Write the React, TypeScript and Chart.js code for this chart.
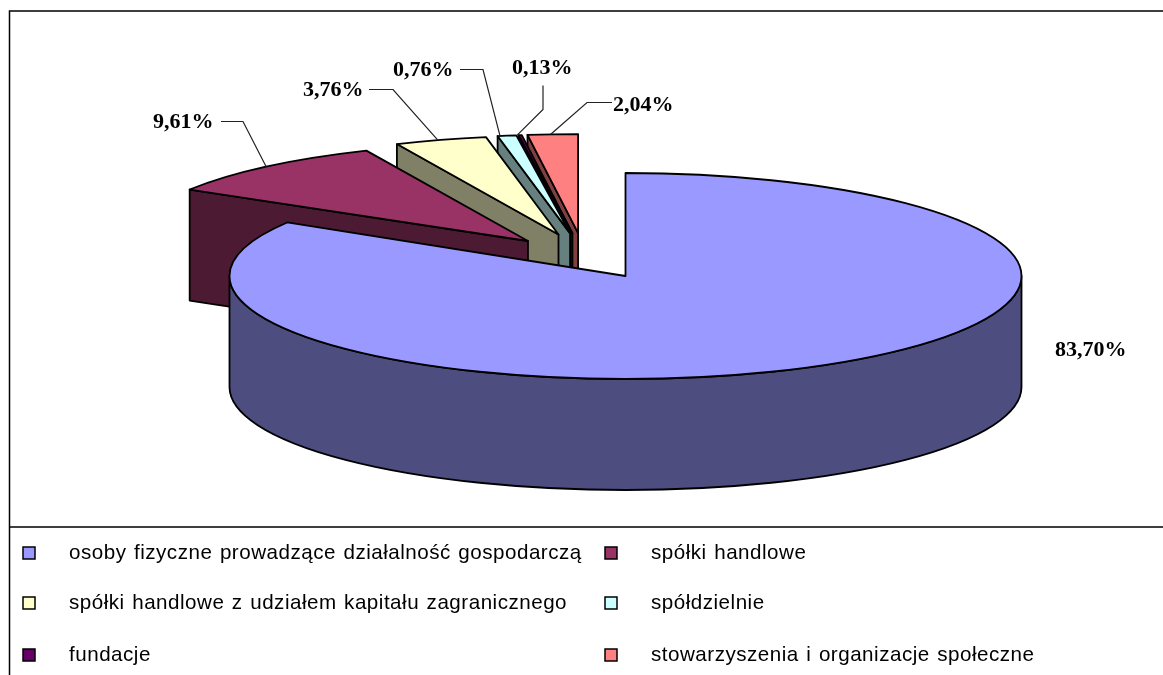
import React, { useEffect, useRef } from "react";
import { Chart, registerables } from "chart.js";

Chart.register(...registerables);

const categories = [
  "osoby fizyczne prowadzące działalność gospodarczą",
  "spółki handlowe",
  "spółki handlowe z udziałem kapitału zagranicznego",
  "spółdzielnie",
  "fundacje",
  "stowarzyszenia i organizacje społeczne",
];
const shares = [83.7, 9.61, 3.76, 0.76, 0.13, 2.04];
const colors = ["#9999FF", "#993366", "#FFFFCC", "#CCFFFF", "#660066", "#FF8080"];
const explode = [0, 84, 84, 84, 84, 84];

// Projection of the flat pie into the tilted 3D look
const TILT = 103 / 396;
const EXPLODED_TILT = 99 / 396;
const DEPTH = 111;
const EXPLODE_Y = 32 / 84;
const GROUP_SHIFT_X = -42;
const GROUP_SHIFT_Y = -11;

// Text box (x of left edge, y of middle) and leader elbow for each value label
const labelLayout = [
  { x: 1055, y: 350, leader: null, tipShift: 0 },
  { x: 153, y: 122, leader: [[221, 121], [243, 121]], tipShift: 0 },
  { x: 303, y: 90, leader: [[369, 89], [393, 89]], tipShift: -3 },
  { x: 393, y: 70, leader: [[460, 69], [483, 69]], tipShift: -7 },
  { x: 512, y: 68, leader: [[543, 85], [543, 109]], tipShift: -3 },
  { x: 613, y: 105, leader: [[612, 102], [587, 102]], tipShift: -2 },
];
const legendRowsY = [553, 603, 655];
const legendColumnsX = [23, 605];

function darker(hex: string) {
  const n = parseInt(hex.slice(1), 16);
  const c = [(n >> 16) & 255, (n >> 8) & 255, n & 255].map((v) => Math.round(v / 2));
  return `rgb(${c[0]},${c[1]},${c[2]})`;
}

function geometry(el: any) {
  const { x, y, startAngle, endAngle, outerRadius } = el.getProps(
    ["x", "y", "startAngle", "endAngle", "outerRadius"],
    true
  );
  const off = el.options.offset || 0;
  const mid = (startAngle + endAngle) / 2;
  const cx = x + (off ? off * Math.cos(mid) + GROUP_SHIFT_X : 0);
  const cy = y + (off ? off * EXPLODE_Y * Math.sin(mid) + GROUP_SHIFT_Y : 0);
  const ry = outerRadius * (off ? EXPLODED_TILT : TILT);
  return { cx, cy, r: outerRadius, ry, startAngle, endAngle, mid };
}

const pie3d = {
  id: "pie3d",
  beforeDraw(chart: any) {
    const { ctx, width, height } = chart;
    ctx.save();
    ctx.fillStyle = "#fff";
    ctx.fillRect(0, 0, width, height);
    ctx.restore();
  },
  beforeDatasetsDraw(chart: any) {
    const { ctx } = chart;
    const arcs = chart.getDatasetMeta(0).data;
    ctx.save();
    ctx.lineJoin = "round";
    ctx.lineWidth = 1.8;
    ctx.strokeStyle = "#000";
    for (let i = arcs.length - 1; i >= 0; i--) {
      const g = geometry(arcs[i]);
      const base = arcs[i].options.backgroundColor as string;
      const wall = darker(colors[i] ?? base);
      ctx.fillStyle = wall;
      const edgeWall = (a: number) => {
        ctx.beginPath();
        ctx.moveTo(g.cx, g.cy);
        const ex = g.cx + g.r * Math.cos(a);
        const ey = g.cy + g.ry * Math.sin(a);
        ctx.lineTo(ex, ey);
        ctx.lineTo(ex, ey + DEPTH);
        ctx.lineTo(g.cx, g.cy + DEPTH);
        ctx.closePath();
        ctx.fill();
        ctx.stroke();
      };
      if (Math.cos(g.startAngle) < -1e-6) edgeWall(g.startAngle);
      if (Math.cos(g.endAngle) > 1e-6) edgeWall(g.endAngle);
      const a0 = Math.max(g.startAngle, 0);
      const a1 = Math.min(g.endAngle, Math.PI);
      if (a1 > a0) {
        ctx.beginPath();
        ctx.ellipse(g.cx, g.cy, g.r, g.ry, 0, a0, a1);
        ctx.ellipse(g.cx, g.cy + DEPTH, g.r, g.ry, 0, a1, a0, true);
        ctx.closePath();
        ctx.fill();
        ctx.stroke();
      }
      ctx.fillStyle = base;
      ctx.beginPath();
      ctx.moveTo(g.cx, g.cy);
      ctx.ellipse(g.cx, g.cy, g.r, g.ry, 0, g.startAngle, g.endAngle);
      ctx.closePath();
      ctx.fill();
      ctx.stroke();
    }
    ctx.restore();
    return false;
  },
  afterDraw(chart: any) {
    const { ctx, width, height } = chart;
    const arcs = chart.getDatasetMeta(0).data;
    const values = chart.data.datasets[0].data as number[];
    ctx.save();
    ctx.strokeStyle = "#000";
    ctx.lineWidth = 1.5;
    ctx.beginPath();
    ctx.moveTo(9.5, height);
    ctx.lineTo(9.5, 11);
    ctx.lineTo(width, 11);
    ctx.moveTo(9.5, 527);
    ctx.lineTo(width, 527);
    ctx.stroke();
    ctx.textBaseline = "middle";
    ctx.textAlign = "left";
    ctx.font = 'bold 22px "Liberation Serif"';
    values.forEach((v, i) => {
      const l = labelLayout[i];
      ctx.fillStyle = "#000";
      ctx.fillText(v.toFixed(2).replace(".", ",") + "%", l.x, l.y);
      if (l.leader) {
        const g = geometry(arcs[i]);
        ctx.strokeStyle = "#222";
        ctx.lineWidth = 1.2;
        ctx.beginPath();
        ctx.moveTo(l.leader[0][0], l.leader[0][1] + 0.5);
        ctx.lineTo(l.leader[1][0], l.leader[1][1] + 0.5);
        ctx.lineTo(g.cx + g.r * Math.cos(g.mid) + l.tipShift, g.cy + g.ry * Math.sin(g.mid));
        ctx.stroke();
      }
    });
    ctx.font = '20.6px "Liberation Sans"';
    (ctx as any).letterSpacing = "0.5px";
    (ctx as any).wordSpacing = "1.3px";
    chart.data.labels.forEach((label: string, i: number) => {
      const x = legendColumnsX[i % 2];
      const y = legendRowsY[Math.floor(i / 2)];
      ctx.fillStyle = colors[i];
      ctx.strokeStyle = "#000";
      ctx.lineWidth = 1.5;
      ctx.fillRect(x, y - 6, 12, 12);
      ctx.strokeRect(x, y - 6, 12, 12);
      ctx.fillStyle = "#000";
      ctx.fillText(label, x + 46, y);
    });
    ctx.restore();
  },
};

export default function App() {
  const ref = useRef<HTMLCanvasElement>(null);
  useEffect(() => {
    const chart = new Chart(ref.current!, {
      type: "pie",
      data: {
        labels: categories,
        datasets: [
          {
            data: shares,
            backgroundColor: colors,
            offset: explode,
            borderWidth: 0,
            radius: 396,
          } as any,
        ],
      },
      options: {
        responsive: false,
        animation: false,
        layout: { padding: { left: 88, right: 0, top: 0, bottom: 123 } },
        plugins: { legend: { display: false }, tooltip: { enabled: false } },
      },
      plugins: [pie3d as any],
    });
    return () => chart.destroy();
  }, []);
  return (
    <canvas
      ref={ref}
      width={1163}
      height={675}
      style={{ position: "fixed", left: 0, top: 0, display: "block" }}
    />
  );
}
